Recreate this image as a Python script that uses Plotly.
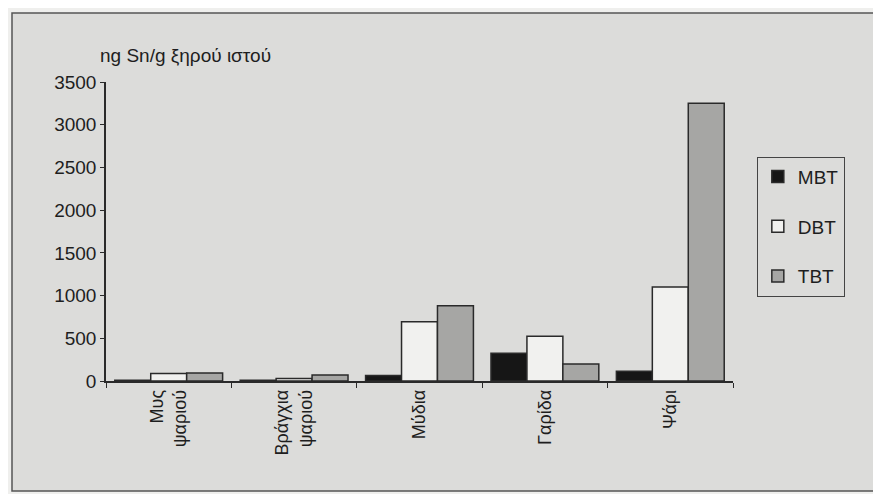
import plotly.graph_objects as go

categories = ["Μυς<br>ψαριού", "Βράγχια<br>ψαριού", "Μύδια", "Γαρίδα", "Ψάρι"]
mbt = [10, 10, 65, 325, 115]
dbt = [88, 30, 695, 525, 1100]
tbt = [95, 70, 880, 200, 3250]
y_ticks = [0, 500, 1000, 1500, 2000, 2500, 3000, 3500]
series = [("MBT", mbt, "#161616"), ("DBT", dbt, "#f1f1ef"), ("TBT", tbt, "#a6a6a4")]

FONT = "Liberation Sans, Arial, sans-serif"

fig = go.Figure()
for name, vals, col in series:
    fig.add_trace(go.Bar(
        x=categories, y=vals, name=name, legendgroup=name,
        marker=dict(color=col, line=dict(color="#2a2a2a", width=1.5)),
    ))

# page body has an 8px margin, so the figure is drawn 8px smaller and offset
fig.update_layout(
    width=873, height=486,
    margin=dict(l=98, r=148, t=74, b=113),
    paper_bgcolor="#efefed",
    plot_bgcolor="rgba(0,0,0,0)",
    barmode="group", bargap=0.14, bargroupgap=0,
    font=dict(family=FONT, size=19, color="#1e1e1e"),
    showlegend=True,
    legend=dict(
        x=1.038, y=0.75, xanchor="left", yanchor="top",
        bgcolor="rgba(0,0,0,0)", bordercolor="#444", borderwidth=1,
        font=dict(size=19, color="#1e1e1e"), tracegroupgap=22,
        itemwidth=30,
    ),
    xaxis=dict(
        type="category", showgrid=False, zeroline=False,
        showline=True, linecolor="#2a2a2a", linewidth=1.5,
        ticks="outside", ticklen=5, tickcolor="#2a2a2a", tickson="boundaries",
        tickangle=-90, tickfont=dict(size=18, color="#1e1e1e"),
    ),
    yaxis=dict(
        range=[0, 3500], tickvals=y_ticks, showgrid=False, zeroline=False,
        showline=True, linecolor="#2a2a2a", linewidth=1.5,
        ticks="outside", ticklen=4, tickcolor="#2a2a2a",
        tickfont=dict(size=19, color="#1e1e1e"),
    ),
    shapes=[dict(
        type="rect", xref="paper", yref="paper",
        x0=(4 - 98) / 627, x1=(867 - 98) / 627,
        y0=(373 - 483) / 299, y1=(373 - 5) / 299,
        fillcolor="#dcdcda", line=dict(color="#555", width=1.5), layer="below",
    )],
    annotations=[dict(
        text="ng Sn/g ξηρού ιστού", xref="paper", yref="paper",
        x=-0.012, y=1.09, xanchor="left", yanchor="middle", showarrow=False,
        font=dict(size=19, color="#1e1e1e"),
    )],
)

fig.write_html("out.html")
